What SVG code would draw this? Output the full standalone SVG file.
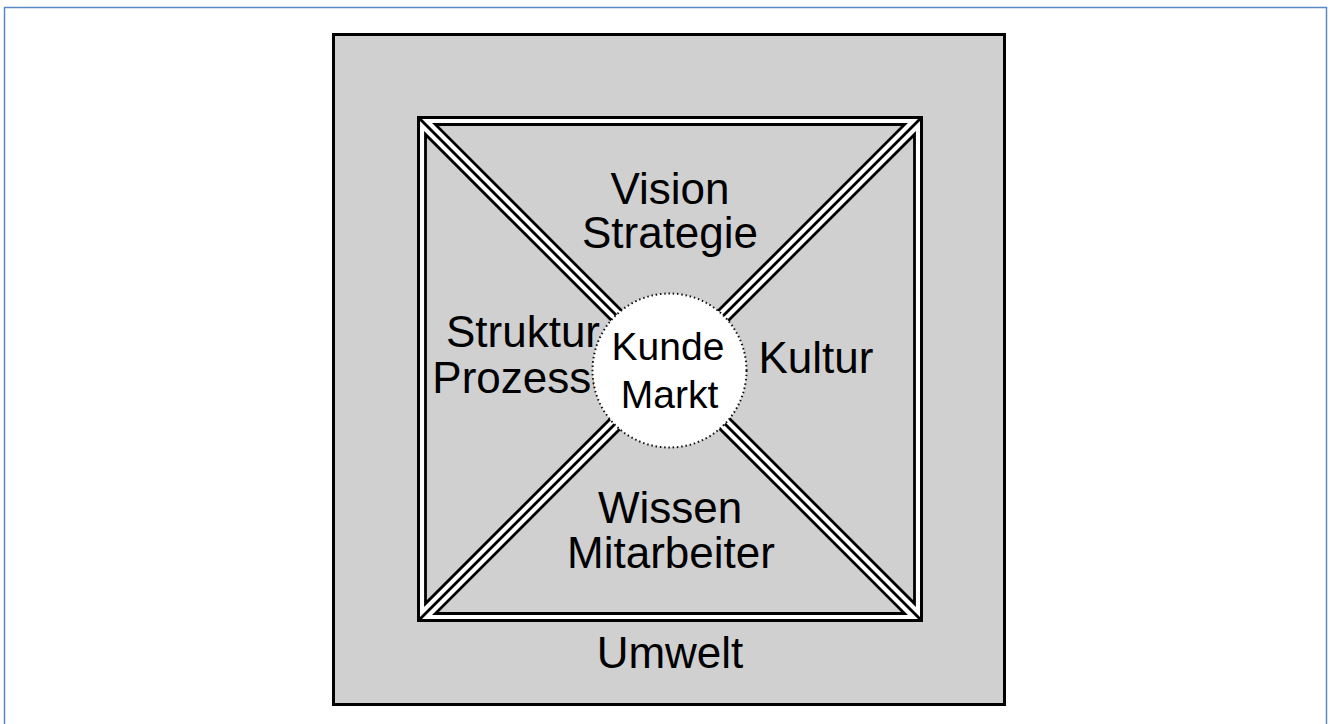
<svg xmlns="http://www.w3.org/2000/svg" width="1332" height="724" viewBox="0 0 1332 724">
<style>
.lbl{font-family:"Liberation Sans",Arial,sans-serif;font-size:44px;fill:#000;text-anchor:middle}
.ctr{font-family:"Liberation Sans",Arial,sans-serif;font-size:39px;fill:#000;text-anchor:middle}
.tri{fill:#d0d0d0;stroke:#000;stroke-width:2.8;stroke-linejoin:miter}
</style>
<rect x="0" y="0" width="1332" height="724" fill="#fff"/>
<rect x="4.5" y="7.5" width="1322" height="740" fill="none" stroke="#5a8ac6" stroke-width="1.5"/>
<g id="umwelt">
<rect x="333.5" y="34.5" width="671" height="670" fill="#d0d0d0" stroke="#000" stroke-width="3"/>
<text class="lbl" x="670" y="668">Umwelt</text>
</g>
<g id="frame">
<rect x="418.5" y="117.5" width="503" height="503" fill="#fff" stroke="#000" stroke-width="3"/>
</g>
<g id="connectors">
<line x1="418.5" y1="117.5" x2="921.5" y2="620.5" stroke="#000" stroke-width="2.8"/>
<line x1="921.5" y1="117.5" x2="418.5" y2="620.5" stroke="#000" stroke-width="2.8"/>
</g>
<g id="vision">
<polygon class="tri" points="435.4,124.5 904.6,124.5 670,359.1"/>
<text class="lbl" x="670" y="204">Vision</text>
<text class="lbl" x="670" y="248">Strategie</text>
</g>
<g id="wissen">
<polygon class="tri" points="435.4,613.5 904.6,613.5 670,378.9"/>
<text class="lbl" x="670" y="523">Wissen</text>
<text class="lbl" x="671" y="568">Mitarbeiter</text>
</g>
<g id="struktur">
<polygon class="tri" points="425.5,134.4 425.5,603.6 660.1,369"/>
<text class="lbl" x="523" y="347">Struktur</text>
<text class="lbl" x="524" y="393">Prozesse</text>
</g>
<g id="kultur">
<polygon class="tri" points="914.5,134.4 914.5,603.6 679.9,369"/>
<text class="lbl" x="816" y="373">Kultur</text>
</g>
<g id="kunde">
<circle cx="669.5" cy="370.5" r="77" fill="#fff" stroke="#111" stroke-width="2" stroke-dasharray="1.5 2.8"/>
<text class="ctr" x="668" y="360">Kunde</text>
<text class="ctr" x="669.5" y="408">Markt</text>
</g>
</svg>
